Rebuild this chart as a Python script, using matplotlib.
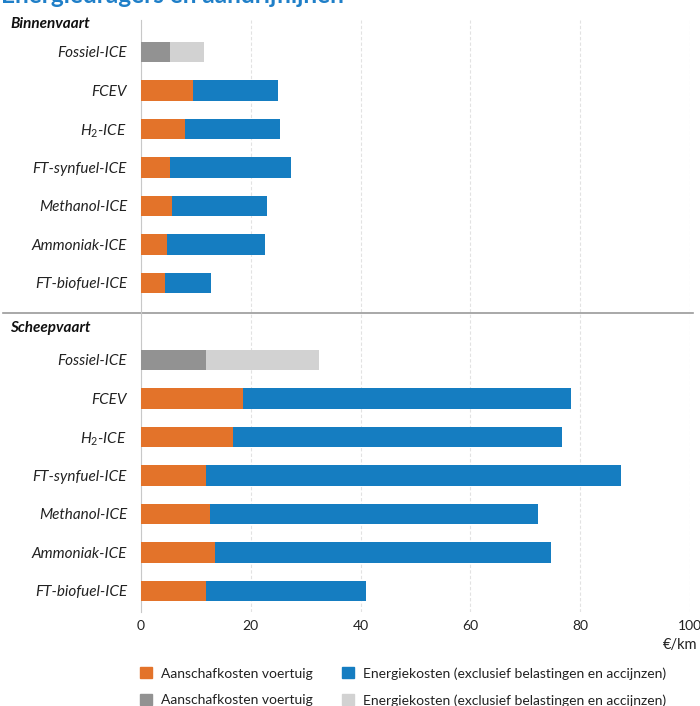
import matplotlib
matplotlib.use("Agg")
import matplotlib.pyplot as plt
from matplotlib.patches import Patch
from matplotlib import transforms

plt.rcParams['font.family'] = ['Lato', 'DejaVu Sans']
plt.rcParams['mathtext.fontset'] = 'custom'
plt.rcParams['mathtext.rm'] = 'Lato'
plt.rcParams['mathtext.it'] = 'Lato:italic'

# data (euro per km)
labels = ['Fossiel-ICE', 'FCEV', 'H$_2$-ICE', 'FT-synfuel-ICE',
          'Methanol-ICE', 'Ammoniak-ICE', 'FT-biofuel-ICE']
groups = ['Binnenvaart', 'Scheepvaart']
binnen_aanschaf = [5.3, 9.4, 8.0, 5.3, 5.7, 4.7, 4.4]
binnen_energie = [6.1, 15.5, 17.4, 22.0, 17.3, 17.8, 8.3]
zee_aanschaf = [11.9, 18.5, 16.7, 11.9, 12.5, 13.5, 11.9]
zee_energie = [20.5, 59.9, 59.9, 75.5, 59.9, 61.2, 29.1]
xticks = [0, 20, 40, 60, 80, 100]
legend_labels = ['Aanschafkosten voertuig',
                 'Energiekosten (exclusief belastingen en accijnzen)']

orange = '#e3732a'
blue = '#157dc1'
dgrey = '#929292'
lgrey = '#d2d2d2'

fig = plt.figure(figsize=(7, 7.06), dpi=100)
ax = fig.add_axes([141/700, 1-612/706, 549/700, 592/706])

n = len(labels)
for g, (aan, ene) in enumerate([(binnen_aanschaf, binnen_energie),
                                (zee_aanschaf, zee_energie)]):
    ys = [g*8 + i for i in range(n)]
    # first row is the fossil reference, drawn in grey
    c1 = [dgrey] + [orange]*(n-1)
    c2 = [lgrey] + [blue]*(n-1)
    ax.barh(ys, aan, height=0.53, color=c1, zorder=3)
    ax.barh(ys, ene, left=aan, height=0.53, color=c2, zorder=3)

yt = list(range(n)) + [8 + i for i in range(n)]
ax.set_yticks(yt, labels + labels, fontstyle='italic', fontsize=11,
              color='#222222')
ax.set_ylim(14.55, -0.83)
ax.set_xlim(0, 100)
ax.set_xticks(xticks, [str(v) for v in xticks], fontsize=10, color='#222222')
ax.tick_params(length=0)
ax.tick_params(axis='y', pad=10)
ax.tick_params(axis='x', pad=6)
for s in ['top', 'right', 'bottom']:
    ax.spines[s].set_visible(False)
ax.spines['left'].set_color('#c8c8c8')
ax.xaxis.grid(True, linestyle=(0, (3, 2)), color='#e2e2e2', linewidth=0.8)
ax.set_axisbelow(True)

# group headers and separator
bt = transforms.blended_transform_factory(fig.transFigure, ax.transData)
ax.text(10/700, -0.72, groups[0], transform=bt, fontsize=11,
        fontweight='bold', fontstyle='italic', va='center', color='#111111')
ax.text(10/700, 7.17, groups[1], transform=bt, fontsize=11,
        fontweight='bold', fontstyle='italic', va='center', color='#111111')
ax.plot([3/700, 693/700], [6.78, 6.78], transform=bt, color='#9a9a9a',
        linewidth=1.2, clip_on=False)

fig.text(697/700, 1-645/706, '€/km', ha='right', va='center', fontsize=10.5,
         color='#222222')

# cut-off title at the top
fig.text(1/700, 1-3/706, 'Energiedragers en aandrijflijnen', ha='left',
         va='baseline', fontsize=17.5, fontweight='bold', color='#1f7fc8')

handles = [Patch(color=orange), Patch(color=dgrey),
           Patch(color=blue), Patch(color=lgrey)]
fig.legend(handles, [legend_labels[0], legend_labels[0],
                     legend_labels[1], legend_labels[1]],
           ncol=2, loc='upper left', bbox_to_anchor=(140/700, 1-667/706),
           frameon=False, fontsize=10, handlelength=0.85, handleheight=0.85,
           handletextpad=0.65, columnspacing=2.1, labelspacing=1.05,
           borderpad=0, borderaxespad=0, labelcolor='#222222')

fig.savefig('out.png', dpi=100)
